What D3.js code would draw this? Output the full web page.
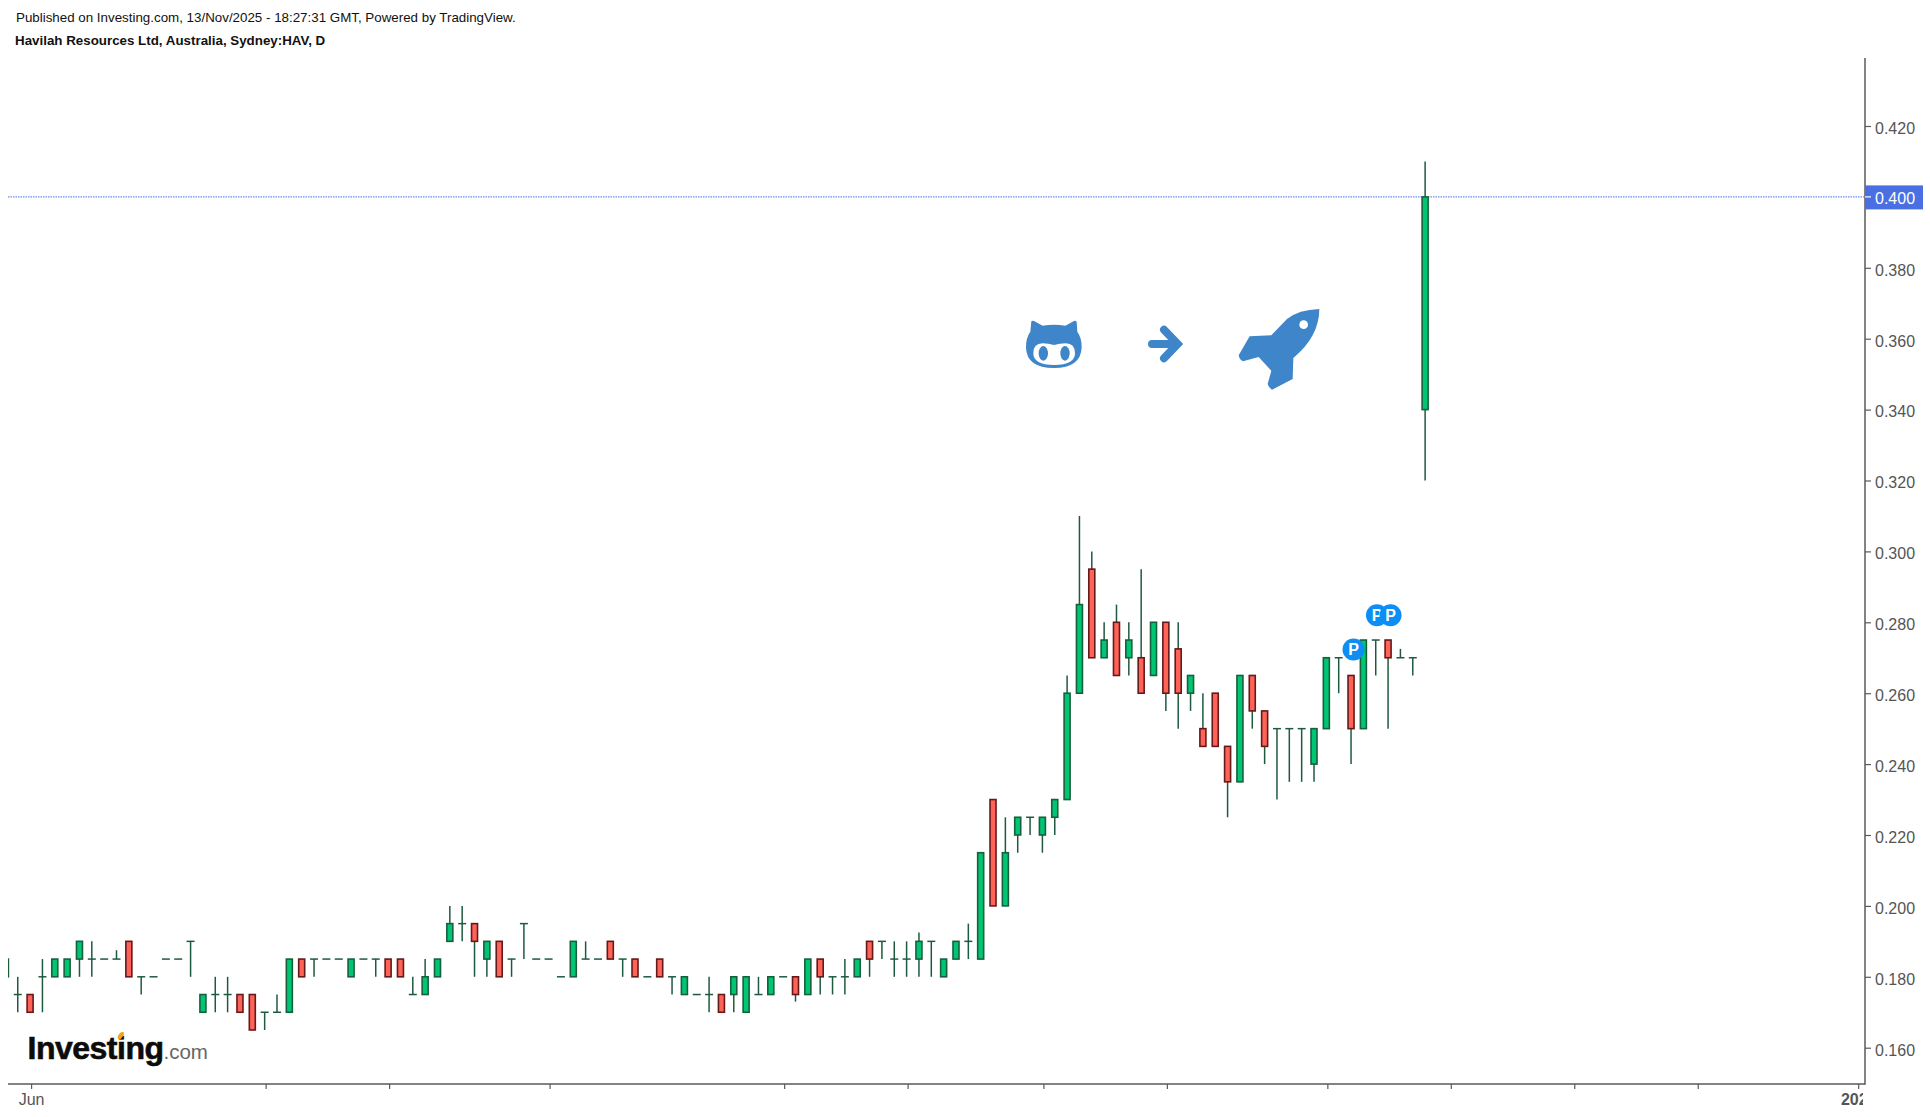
<!DOCTYPE html>
<html>
<head>
<meta charset="utf-8">
<title>Havilah Resources Ltd, Australia, Sydney:HAV, D</title>
<script src="https://cdn.jsdelivr.net/npm/d3@7/dist/d3.min.js"></script>
<style>
html,body{margin:0;padding:0;background:#fff;overflow:hidden}
svg{display:block}
text{font-family:"Liberation Sans",Arial,sans-serif}
</style>
</head>
<body>
<svg id="chart" width="1930" height="1117"></svg>
<script>
// One entry per daily session, oldest first
const opens = [.18,.175,.175,.18,.18,.18,.185,.185,.185,.185,.19,.18,.18,.185,.185,.19,.17,.175,.175,.175,.175,.17,.17,.17,.185,.185,.185,.185,.18,.185,.185,.185,.185,.175,.175,.18,.19,.195,.195,.185,.19,
.185,.195,.185,.185,.18,.18,.185,.185,.19,.185,.185,.18,.185,.18,.175,.175,.175,.175,.175,.17,.175,.175,.18,.18,.175,.185,.18,.18,.18,.19,.19,.185,.185,.185,.19,.18,.185,.19,.185,.23,
.20,.22,.225,.22,.225,.23,.26,.295,.27,.28,.27,.27,.265,.28,.2725,.26,.25,.26,.245,.235,.265,.255,.25,.25,.25,.24,.25,.27,.265,.25,.275,.275,.27,.27,.34];
const highs = [.185,.18,.175,.185,.185,.185,.19,.19,.185,.1875,.19,.18,.18,.185,.185,.19,.175,.18,.18,.175,.175,.17,.175,.185,.185,.185,.185,.185,.185,.185,.185,.185,.185,.18,.185,.185,.20,.20,.195,.19,.19,
.185,.195,.185,.185,.18,.19,.19,.185,.19,.185,.185,.18,.185,.18,.18,.175,.18,.175,.18,.18,.18,.18,.18,.18,.185,.185,.18,.185,.185,.19,.19,.19,.19,.1925,.19,.185,.19,.195,.215,.23,
.225,.225,.225,.225,.23,.265,.31,.30,.28,.285,.28,.295,.28,.28,.28,.265,.26,.26,.245,.265,.265,.255,.25,.25,.25,.25,.27,.27,.265,.275,.275,.275,.2725,.27,.41];
const lows = [.18,.17,.17,.17,.18,.18,.18,.18,.185,.185,.18,.175,.18,.185,.185,.18,.17,.17,.17,.17,.165,.165,.17,.17,.18,.18,.185,.185,.18,.185,.18,.18,.18,.175,.175,.18,.19,.19,.18,.18,.18,
.18,.185,.185,.185,.18,.18,.185,.185,.185,.18,.18,.18,.18,.175,.175,.175,.17,.17,.17,.17,.175,.175,.18,.173,.175,.175,.175,.175,.18,.18,.185,.18,.18,.18,.18,.18,.185,.185,.185,.20,
.20,.215,.22,.215,.22,.23,.26,.27,.27,.265,.265,.26,.265,.255,.25,.255,.245,.245,.225,.235,.25,.24,.23,.235,.235,.235,.25,.26,.24,.25,.265,.25,.27,.265,.32];
const closes = [.185,.175,.17,.18,.185,.185,.19,.185,.185,.185,.18,.18,.18,.185,.185,.19,.175,.175,.175,.17,.165,.17,.17,.185,.18,.185,.185,.185,.185,.185,.185,.18,.18,.175,.18,.185,.195,.195,.19,.19,.18,
.185,.195,.185,.185,.18,.19,.185,.185,.185,.185,.18,.18,.18,.18,.18,.175,.175,.17,.18,.18,.175,.18,.18,.175,.185,.18,.18,.18,.185,.185,.19,.185,.185,.19,.19,.185,.19,.19,.215,.20,
.215,.225,.225,.225,.23,.26,.285,.27,.275,.265,.275,.26,.28,.26,.26,.265,.245,.245,.235,.265,.255,.245,.25,.25,.25,.25,.27,.27,.25,.275,.275,.27,.27,.27,.40];

const priceTicks = [0.16,0.18,0.20,0.22,0.24,0.26,0.28,0.30,0.32,0.34,0.36,0.38,0.40,0.42];
const timeTickSessions = [2,21,31,44,63,73,84,94,107,117,127,137,150];
const timeTickLabels = ["Jun","","","","","","","","","","","","2026"];
const lastPrice = 0.40;
const markerSessions = [109.2,111.1,112.2];
const markerPrices = [0.2723,0.282,0.282];
const markerLabels = ["P","P","P"];
const titleLines = ["Published on Investing.com, 13/Nov/2025 - 18:27:31 GMT, Powered by TradingView.","Havilah Resources Ltd, Australia, Sydney:HAV, D"];

const svg = d3.select("#chart");
const plot = {left:8, right:1865, top:58, bottom:1084};
const x = d3.scaleLinear().domain([0,150]).range([5.4,1857.2]);
const y = d3.scaleLinear().domain([0.16,0.42]).range([1047.7,126]);

const candles = opens.map((o,i)=>({i,o,h:highs[i],l:lows[i],c:closes[i]}));

const defs = svg.append("defs");
defs.append("clipPath").attr("id","plotClip").append("rect")
  .attr("x",plot.left).attr("y",plot.top).attr("width",plot.right-plot.left).attr("height",plot.bottom-plot.top);
defs.append("clipPath").attr("id","timeClip").append("rect")
  .attr("x",0).attr("y",0).attr("width",plot.right-3).attr("height",1117-plot.bottom);

// Titles
svg.selectAll("text.title").data(titleLines).join("text").attr("class","title")
  .attr("x",(d,i)=>i?15:16).attr("y",(d,i)=>i?45:21.5)
  .attr("font-size",13.35).attr("font-weight",(d,i)=>i?"bold":"normal").attr("fill","#111").text(d=>d);

// Logo
const logo = svg.append("g");
logo.append("text").attr("x",27.5).attr("y",1058.5).attr("font-size",32).attr("font-weight","bold")
  .attr("letter-spacing",-0.5).attr("fill","#0c0c0c").attr("stroke","#0c0c0c").attr("stroke-width",0.6).text("Investing");
logo.append("text").attr("x",163.5).attr("y",1059).attr("font-size",20.5).attr("fill","#666").text(".com");
logo.append("ellipse").attr("cx",120.8).attr("cy",1035.5).attr("rx",2.2).attr("ry",4.2)
  .attr("transform","rotate(35 120.8 1035.5)").attr("fill","#f7a11a");

// Icons (traced in 3x crop coordinates)
const iconBlue = "#3f85c9";
const cat = svg.append("g").attr("transform","translate(1020,315) scale(0.3333)");
cat.append("path").attr("fill",iconBlue).attr("d","M34,19 Q37,16 42,18 L68,32 Q102,27 136,32 L162,18 Q168,16 170,21 L172,50 Q186,70 185,98 Q182,158 102,159 Q20,158 18,98 Q17,70 31,50 Z");
cat.append("path").attr("fill","#fff").attr("d","M40,115 Q40,85 68,85 Q85,85 102,90 Q120,85 137,85 Q165,85 165,115 Q165,150 102,150 Q40,150 40,115 Z");
cat.selectAll("ellipse").data([70,135]).join("ellipse").attr("cx",d=>d).attr("cy",115).attr("rx",14).attr("ry",22).attr("fill",iconBlue);

const arrow = svg.append("g").attr("transform","translate(1140,320) scale(0.3333)");
arrow.append("path").attr("fill","none").attr("stroke",iconBlue).attr("stroke-width",24).attr("stroke-linecap","round").attr("stroke-linejoin","miter")
  .attr("d","M36,72 L112,72 M72,29 L113,72 L72,115");

const rocket = svg.append("g").attr("transform","translate(1232,303) scale(0.3333)");
rocket.append("path").attr("fill",iconBlue).attr("d","M262,18 Q200,20 165,48 L118,97 L53,100 L20,157 Q22,170 33,175 L80,162 L118,203 L107,243 Q110,255 120,260 L182,228 L184,165 Q262,100 262,18 Z");
rocket.append("circle").attr("cx",215).attr("cy",65).attr("r",13).attr("fill","#fff");

// Candles
const g = svg.append("g").attr("clip-path","url(#plotClip)");
const wickCol = "#1f5a40", upBorder = "#17603f", downBorder = "#641a1a", upFill = "#00c572", downFill = "#ff6257";
const bw = 6;
g.append("line").attr("x1",plot.left).attr("x2",plot.right).attr("y1",y(lastPrice)).attr("y2",y(lastPrice))
  .attr("stroke","#4a6fe3").attr("stroke-width",1).attr("stroke-dasharray","1.5 1");

const cg = g.selectAll("g.c").data(candles).join("g").attr("class","c");
cg.append("line").attr("x1",d=>x(d.i)).attr("x2",d=>x(d.i)).attr("y1",d=>y(d.h)).attr("y2",d=>y(d.l))
  .attr("stroke",wickCol).attr("stroke-width",1.5);
cg.filter(d=>d.o===d.c).append("line")
  .attr("x1",d=>x(d.i)-bw/2-1).attr("x2",d=>x(d.i)+bw/2+1).attr("y1",d=>y(d.c)).attr("y2",d=>y(d.c))
  .attr("stroke",wickCol).attr("stroke-width",1.5);
cg.filter(d=>d.o!==d.c).append("rect")
  .attr("x",d=>x(d.i)-bw/2).attr("width",bw)
  .attr("y",d=>y(Math.max(d.o,d.c))).attr("height",d=>Math.abs(y(d.o)-y(d.c)))
  .attr("fill",d=>d.c>d.o?upFill:downFill).attr("stroke",d=>d.c>d.o?upBorder:downBorder).attr("stroke-width",1.6);

// Axes
const axisCol = "#5a5a5a";
const yAxis = svg.append("g").attr("transform",`translate(${plot.right},0)`)
  .call(d3.axisRight(y).tickValues(priceTicks).tickFormat(d3.format(".3f")).tickSize(6).tickPadding(4));
yAxis.select(".domain").remove();
yAxis.selectAll("line").attr("stroke",axisCol).attr("stroke-width",1.2);
yAxis.selectAll("text").attr("font-size",16).attr("fill","#555").attr("font-family",'"Liberation Sans",Arial,sans-serif').attr("dy","0.46em");

const xAxis = svg.append("g").attr("transform",`translate(1,${plot.bottom})`).attr("clip-path","url(#timeClip)")
  .call(d3.axisBottom(x).tickValues(timeTickSessions).tickFormat((d,i)=>timeTickLabels[i]).tickSize(5).tickPadding(5));
xAxis.select(".domain").remove();
xAxis.selectAll("line").attr("stroke",axisCol).attr("stroke-width",1.2);
xAxis.selectAll("text").attr("font-size",16).attr("fill","#555").attr("font-family",'"Liberation Sans",Arial,sans-serif')
  .attr("font-weight",d=>d===150?"bold":"normal");

svg.append("line").attr("x1",plot.right).attr("x2",plot.right).attr("y1",plot.top).attr("y2",plot.bottom+0.75).attr("stroke",axisCol).attr("stroke-width",1.5);
svg.append("line").attr("x1",plot.left).attr("x2",plot.right).attr("y1",plot.bottom).attr("y2",plot.bottom).attr("stroke",axisCol).attr("stroke-width",1.5);

// Last price label
const lp = svg.append("g").attr("transform",`translate(${plot.right},${y(lastPrice)})`);
lp.append("rect").attr("x",0).attr("y",-11.5).attr("width",58).attr("height",24).attr("fill","#4a6fe3");
lp.append("line").attr("x1",0).attr("x2",6).attr("y1",0).attr("y2",0).attr("stroke","#fff").attr("stroke-width",1.2);
lp.append("text").attr("x",10).attr("y",0).attr("dy","0.46em").attr("font-size",16).attr("fill","#fff").text(d3.format(".3f")(lastPrice));

// Event markers
const mk = svg.selectAll("g.m").data(markerSessions).join("g").attr("class","m")
  .attr("transform",(d,i)=>`translate(${x(d)},${y(markerPrices[i])})`);
mk.append("circle").attr("r",11).attr("fill","#0c8ef5");
mk.append("text").attr("text-anchor","middle").attr("dy","0.36em").attr("font-size",16).attr("font-weight","bold").attr("fill","#fff")
  .text((d,i)=>markerLabels[i]);
</script>
</body>
</html>
